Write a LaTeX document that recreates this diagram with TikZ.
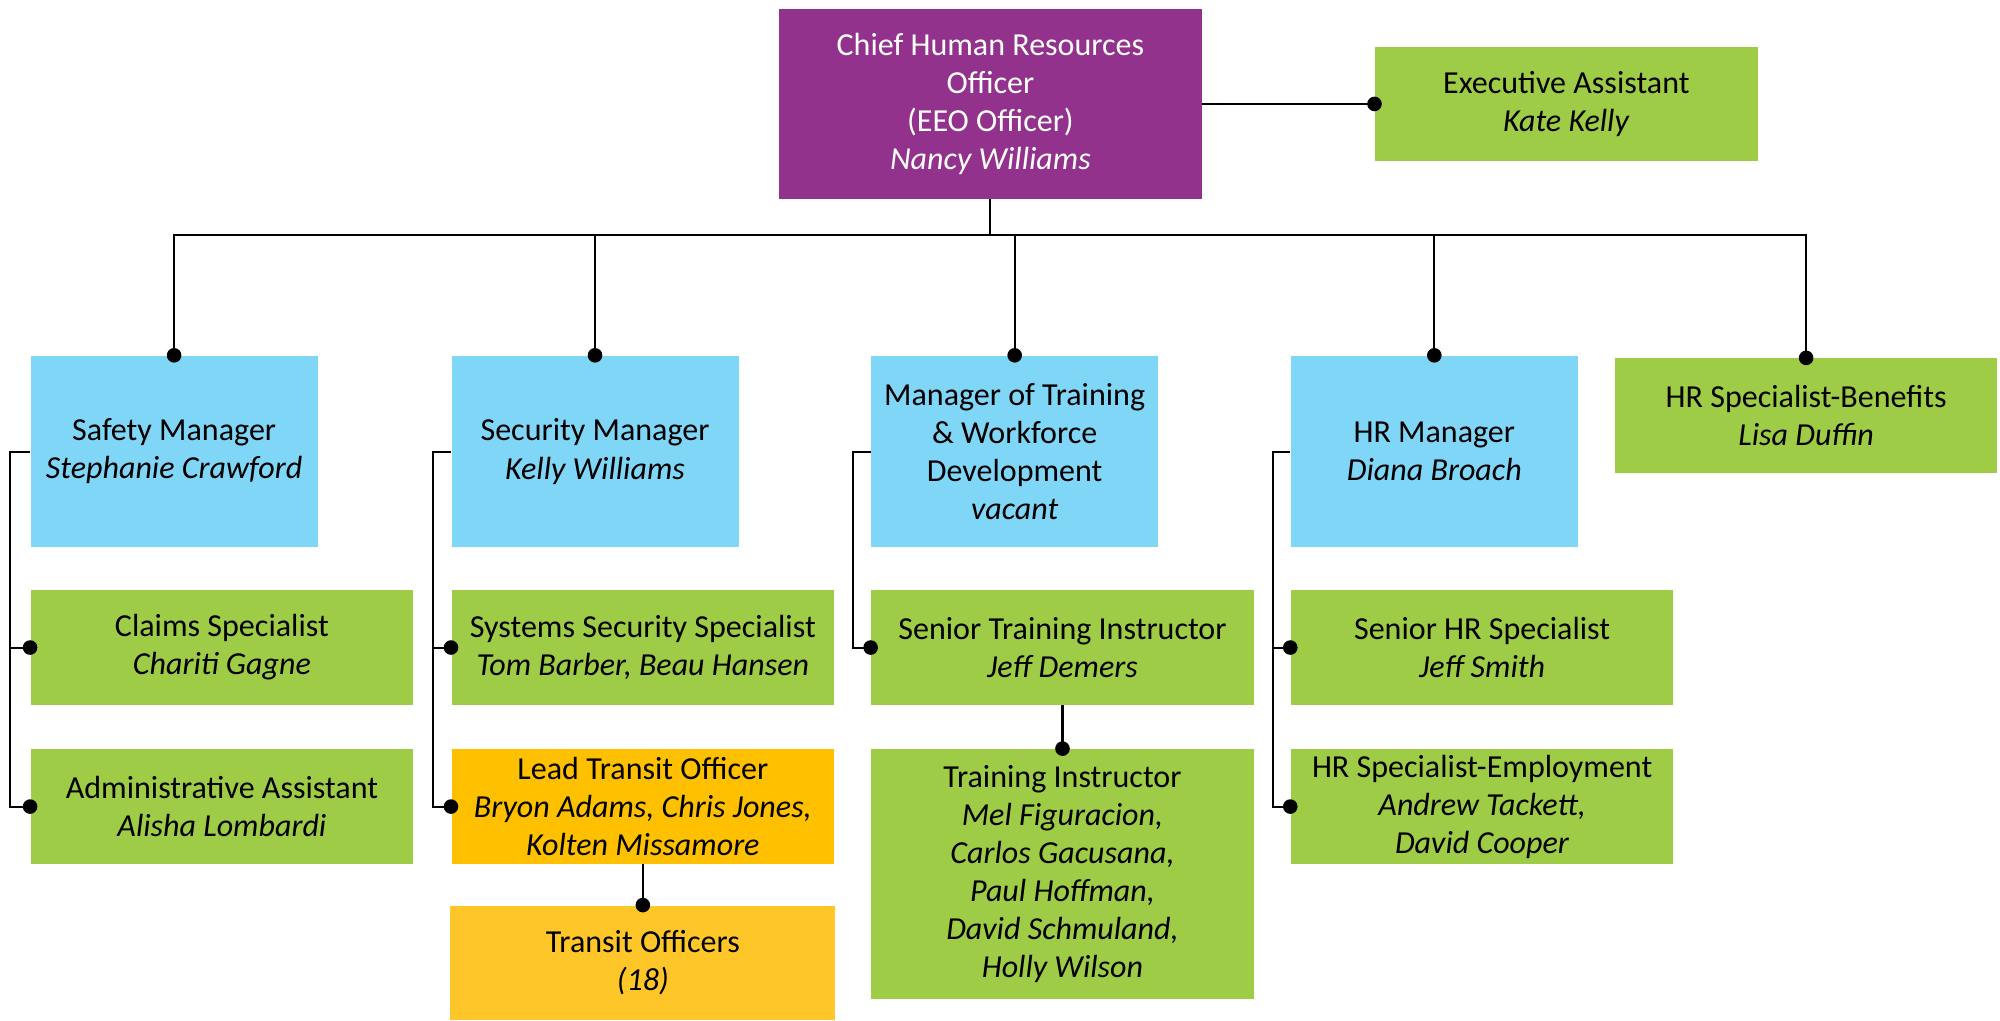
\documentclass[tikz,border=0pt]{standalone}
\usepackage{fontspec}
\setmainfont{Carlito}
\usetikzlibrary{arrows.meta,positioning}

\definecolor{chroPurple}{RGB}{146,50,141}
\definecolor{mgrBlue}{RGB}{128,214,247}
\definecolor{staffGreen}{RGB}{158,204,70}
\definecolor{leadOrange}{RGB}{255,192,0}
\definecolor{officerOrange}{RGB}{255,198,41}

\begin{document}
\begin{tikzpicture}[%
x=0.02cm,
y=-0.02cm,
every node/.style={font=\fontsize{14.3}{17}\selectfont, align=center, inner sep=0pt},
head/.style={rectangle, fill=chroPurple, text=white, minimum width=6.62cm, minimum height=2.98cm},
mgr/.style={rectangle, fill=mgrBlue, minimum width=4.5cm, minimum height=3cm},
staff/.style={rectangle, fill=staffGreen, minimum width=6cm, minimum height=1.8cm},
link/.style={line width=0.9pt, -{Circle[length=6.5pt]}, shorten >=-3.2pt}
]

\useasboundingbox (0,0) rectangle (1568,800);

% top
\node[head] (chro) at (776.5,81.5) {Chief Human Resources\\Officer\\(EEO Officer)\\\textit{Nancy Williams}};
\node[staff] (ea) at (1228,81.5) {Executive Assistant\\\textit{Kate Kelly}};
\coordinate (bus) at (776.5,184);

% managers
\node[mgr] (safety) at (136.5,354) {Safety Manager\\\textit{Stephanie Crawford}};
\node[mgr] (security) at (466.5,354) {Security Manager\\\textit{Kelly Williams}};
\node[mgr] (training) at (795.5,354) {Manager of Training\\\& Workforce\\Development\\\textit{vacant}};
\node[mgr] (hr) at (1124.5,354) {HR Manager\\\textit{Diana Broach}};
\node[staff] (benefits) at (1416,326) {HR Specialist-Benefits\\\textit{Lisa Duffin}};

% staff
\node[staff, below=0.66cm of safety.south west, anchor=north west] (claims) {Claims Specialist\\\textit{Chariti Gagne}};
\node[staff, below=0.68cm of claims, anchor=north] (admin) {Administrative Assistant\\\textit{Alisha Lombardi}};

\node[staff, below=0.66cm of security.south west, anchor=north west] (syssec) {Systems Security Specialist\\\textit{Tom Barber, Beau Hansen}};
\node[staff, fill=leadOrange, below=0.68cm of syssec, anchor=north] (lead) {Lead Transit Officer\\\textit{Bryon Adams, Chris Jones,}\\\textit{Kolten Missamore}};
\node[staff, fill=officerOrange, minimum width=6.04cm, below=0.64cm of lead, anchor=north] (officers) {Transit Officers\\\textit{(18)}};

\node[staff, below=0.66cm of training.south west, anchor=north west] (sti) {Senior Training Instructor\\\textit{Jeff Demers}};
\node[staff, minimum height=3.92cm, below=0.68cm of sti, anchor=north] (ti) {Training Instructor\\\textit{Mel Figuracion,}\\\textit{Carlos Gacusana,}\\\textit{Paul Hoffman,}\\\textit{David Schmuland,}\\\textit{Holly Wilson}};

\node[staff, below=0.66cm of hr.south west, anchor=north west] (shr) {Senior HR Specialist\\\textit{Jeff Smith}};
\node[staff, below=0.68cm of shr, anchor=north] (emp) {HR Specialist-Employment\\\textit{Andrew Tackett,}\\\textit{David Cooper}};

% connectors
\draw[link] (chro.east) -- (ea.west);
\draw[link] (chro.south) -- (bus) -| (safety.north);
\draw[link] (chro.south) -- (bus) -| (security.north);
\draw[link] (chro.south) -- (bus) -| (training.north);
\draw[link] (chro.south) -- (bus) -| (hr.north);
\draw[link] (chro.south) -- (bus) -| (benefits.north);

\draw[link] (safety.west) -- ++(-16,0) |- (claims.west);
\draw[link] (safety.west) -- ++(-16,0) |- (admin.west);
\draw[link] (security.west) -- ++(-14,0) |- (syssec.west);
\draw[link] (security.west) -- ++(-14,0) |- (lead.west);
\draw[link] (lead.south) -- (officers.north);
\draw[link] (training.west) -- ++(-14,0) |- (sti.west);
\draw[link] (sti.south) -- (ti.north);
\draw[link] (hr.west) -- ++(-14,0) |- (shr.west);
\draw[link] (hr.west) -- ++(-14,0) |- (emp.west);

\end{tikzpicture}
\end{document}
